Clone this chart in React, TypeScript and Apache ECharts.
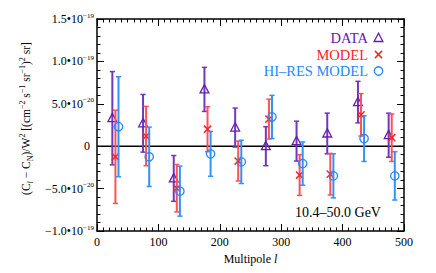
import React, { useEffect, useRef } from "react";
import * as echarts from "echarts";

// Values in units of 1e-20 (cm^-2 s^-1 sr^-1)^2 sr
const dataMultipole = [25, 75, 125, 175, 225, 275, 325, 375, 425, 475];
const dataValues = [3.3, 2.7, -3.8, 6.7, 2.2, 0.0, 0.6, 1.5, 5.2, 1.3];
const dataErrors = [5.5, 3.4, 2.7, 2.6, 2.3, 2.3, 2.35, 2.4, 2.45, 2.6];

const modelMultipole = [30, 80, 130, 180, 230, 280, 330, 380, 430, 480];
const modelValues = [-1.25, 1.2, -4.95, 2.0, -1.75, 3.2, -3.4, -3.3, 3.7, 1.0];
const modelErrors = [5.5, 3.5, 2.8, 2.65, 2.35, 2.35, 2.4, 2.45, 2.5, 2.8];

const hiresMultipole = [35, 85, 135, 185, 235, 285, 335, 385, 435, 485];
const hiresValues = [2.3, -1.25, -5.3, -0.9, -1.85, 3.45, -2.05, -3.5, 0.9, -3.5];
const hiresErrors = [5.9, 3.5, 2.95, 2.65, 2.55, 2.55, 2.55, 2.6, 2.7, 2.85];

const zeroLineX = [0, 500];
const zeroLineY = [0, 0];

const seriesNames = ["DATA", "MODEL", "HI–RES MODEL"];
const energyLabel = "10.4–50.0 GeV";

const SERIF = "'Liberation Serif', 'DejaVu Serif', 'Times New Roman', serif";
const PURPLE = "#6220b0";
const RED = "#ff2424";
const BLUE = "#2288ff";
const PURPLE_BAR = "#7038bc";
const RED_BAR = "#ff5252";
const BLUE_BAR = "#3590ff";

function markerShape(kind: string, cx: number, cy: number, color: string): any {
  if (kind === "triangle") {
    return {
      type: "polygon",
      shape: { points: [[cx, cy - 4.8], [cx - 4.4, cy + 3.5], [cx + 4.4, cy + 3.5]] },
      style: { fill: "none", stroke: color, lineWidth: 1.3 },
    };
  }
  if (kind === "cross") {
    return {
      type: "group",
      children: [
        { type: "line", shape: { x1: cx - 3.6, y1: cy - 3.6, x2: cx + 3.6, y2: cy + 3.6 }, style: { stroke: color, lineWidth: 1.5 } },
        { type: "line", shape: { x1: cx - 3.6, y1: cy + 3.6, x2: cx + 3.6, y2: cy - 3.6 }, style: { stroke: color, lineWidth: 1.5 } },
      ],
    };
  }
  return { type: "circle", shape: { cx, cy, r: 4.2 }, style: { fill: "none", stroke: color, lineWidth: 1.3 } };
}

function makeRender(kind: string, color: string, barColor: string) {
  return (params: any, api: any) => {
    const x = api.value(0);
    const y = api.value(1);
    const e = api.value(2);
    const p = api.coord([x, y]);
    const t = api.coord([x, y + e]);
    const b = api.coord([x, y - e]);
    const cap = 2.6;
    return {
      type: "group",
      children: [
        { type: "line", shape: { x1: p[0], y1: t[1], x2: p[0], y2: b[1] }, style: { stroke: barColor, lineWidth: 2 } },
        { type: "line", shape: { x1: p[0] - cap, y1: t[1], x2: p[0] + cap, y2: t[1] }, style: { stroke: barColor, lineWidth: 1.5 } },
        { type: "line", shape: { x1: p[0] - cap, y1: b[1], x2: p[0] + cap, y2: b[1] }, style: { stroke: barColor, lineWidth: 1.5 } },
        markerShape(kind, p[0], p[1], color),
      ],
    };
  };
}

function yLabel(v: number): string {
  if (Math.abs(v) < 1e-9) return "{z|0}";
  const neg = v < 0 ? "−" : "";
  const a = Math.abs(v);
  if (a >= 10) return `{b|${neg}${(a / 10).toFixed(1)}•10}{s|−19}`;
  return `{b|${neg}${a.toFixed(1)}•10}{s|−20}`;
}

export default function App() {
  const ref = useRef<HTMLDivElement>(null);
  useEffect(() => {
    if (!ref.current) return;
    const chart = echarts.init(ref.current, null, { renderer: "svg" });
    const axisCommon = {
      type: "value" as const,
      splitLine: { show: false },
      axisLine: { show: true, onZero: false, lineStyle: { color: "#000", width: 1.5 } },
      axisTick: { show: true, inside: true, length: 7, lineStyle: { color: "#000", width: 1 } },
      minorTick: { show: true, length: 3.5, lineStyle: { color: "#000", width: 1 } },
    };
    const legendItems: any[] = [];
    const legendColors = [PURPLE, RED, BLUE];
    const legendKinds = ["triangle", "cross", "circle"];
    const legendY = [38, 54.5, 71];
    seriesNames.forEach((n, i) => {
      legendItems.push({
        type: "text",
        x: 368,
        y: legendY[i],
        style: { text: n, align: "right", verticalAlign: "middle", fill: legendColors[i], fontSize: 14.5, fontFamily: SERIF },
      });
      legendItems.push(markerShape(legendKinds[i], 378.5, legendY[i], legendColors[i]));
    });
    legendItems.push({
      type: "text",
      x: 338,
      y: 212,
      style: { text: energyLabel, align: "center", verticalAlign: "middle", fill: "#000", fontSize: 14, fontFamily: SERIF },
    });

    chart.setOption({
      animation: false,
      backgroundColor: "#fff",
      grid: { left: 97, right: 32, top: 19, bottom: 42 },
      xAxis: [
        {
          ...axisCommon,
          min: 0,
          max: 500,
          interval: 100,
          position: "bottom",
          minorTick: { ...axisCommon.minorTick, splitNumber: 10 },
          axisLabel: { color: "#000", fontFamily: SERIF, fontSize: 12, margin: 5 },
          name: "Multipole {i|l}",
          nameLocation: "middle",
          nameGap: 19,
          nameTextStyle: {
            color: "#000",
            fontFamily: SERIF,
            fontSize: 12,
            rich: { i: { fontStyle: "italic", fontFamily: SERIF, fontSize: 12, color: "#000" } },
          },
        },
        {
          ...axisCommon,
          min: 0,
          max: 500,
          interval: 100,
          position: "top",
          minorTick: { ...axisCommon.minorTick, splitNumber: 10 },
          axisLabel: { show: false },
        },
      ],
      yAxis: [
        {
          ...axisCommon,
          min: -10,
          max: 15,
          interval: 5,
          position: "left",
          minorTick: { ...axisCommon.minorTick, splitNumber: 5 },
          axisLabel: {
            color: "#000",
            fontFamily: SERIF,
            margin: 3,
            formatter: (v: number) => yLabel(v),
            rich: {
              b: { fontSize: 12, fontFamily: SERIF, color: "#000", lineHeight: 14, verticalAlign: "middle" },
              s: { fontSize: 7, fontFamily: SERIF, color: "#000", verticalAlign: "top" },
              z: { fontSize: 12, fontFamily: SERIF, color: "#000", lineHeight: 14, padding: [0, 4, 0, 0] },
            },
          },
          name: "(C{i|l} − C{sub|N})/W{sup|2} [(cm{sup|−2} s{sup|−1} sr{sup|−1}){sup|2} sr]",
          nameLocation: "middle",
          nameRotate: 90,
          nameGap: 57,
          nameTextStyle: {
            color: "#000",
            fontFamily: SERIF,
            fontSize: 11.5,
            lineHeight: 16,
            padding: [0, 0, 0, 13],
            rich: {
              i: { fontStyle: "italic", fontSize: 8, fontFamily: SERIF, color: "#000", verticalAlign: "bottom" },
              sub: { fontSize: 8, fontFamily: SERIF, color: "#000", verticalAlign: "bottom" },
              sup: { fontSize: 8, fontFamily: SERIF, color: "#000", verticalAlign: "top" },
            },
          },
        },
        {
          ...axisCommon,
          min: -10,
          max: 15,
          interval: 5,
          position: "right",
          minorTick: { ...axisCommon.minorTick, splitNumber: 5 },
          axisLabel: { show: false },
        },
      ],
      series: [
        {
          type: "line",
          data: zeroLineX.map((x, i) => [x, zeroLineY[i]]),
          symbol: "none",
          silent: true,
          lineStyle: { color: "#000", width: 1.5 },
          z: 1,
        },
        {
          name: seriesNames[0],
          type: "custom",
          renderItem: makeRender("triangle", PURPLE, PURPLE_BAR),
          data: dataMultipole.map((x, i) => [x, dataValues[i], dataErrors[i]]),
          encode: { x: 0, y: 1 },
          z: 3,
        },
        {
          name: seriesNames[1],
          type: "custom",
          renderItem: makeRender("cross", RED, RED_BAR),
          data: modelMultipole.map((x, i) => [x, modelValues[i], modelErrors[i]]),
          encode: { x: 0, y: 1 },
          z: 3,
        },
        {
          name: seriesNames[2],
          type: "custom",
          renderItem: makeRender("circle", BLUE, BLUE_BAR),
          data: hiresMultipole.map((x, i) => [x, hiresValues[i], hiresErrors[i]]),
          encode: { x: 0, y: 1 },
          z: 3,
        },
      ],
      graphic: legendItems,
    });
    return () => chart.dispose();
  }, []);
  return <div ref={ref} style={{ position: "fixed", left: 0, top: 0, width: 436, height: 273 }} />;
}
